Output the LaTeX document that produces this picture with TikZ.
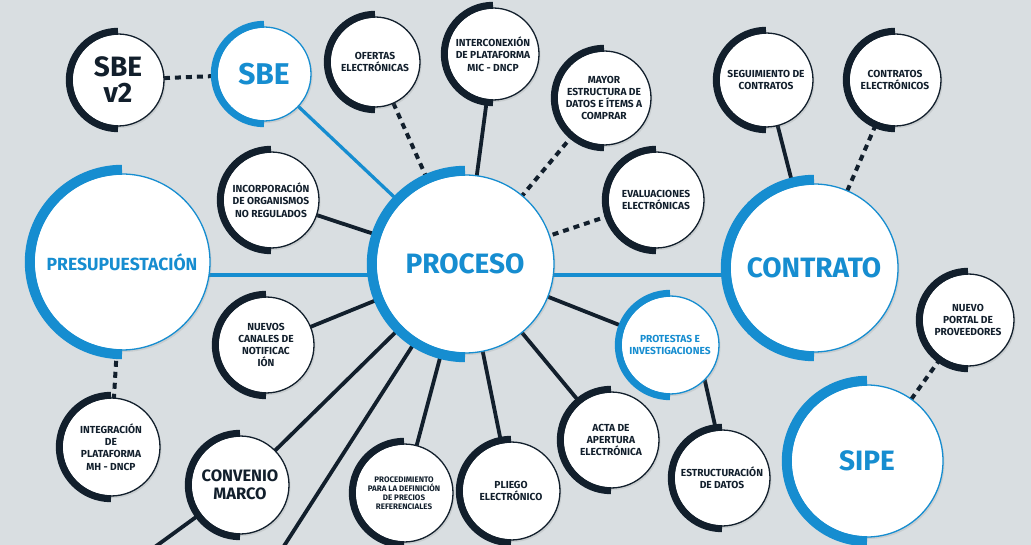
\documentclass[tikz,border=0pt]{standalone}
\usepackage{fontspec}
\setmainfont{Fira Sans}
\usetikzlibrary{shadows,calc}
\definecolor{cblue}{RGB}{22,141,208}
\definecolor{cdark}{RGB}{18,31,44}
\definecolor{cbg}{RGB}{217,222,225}
\pgfdeclarelayer{bg}
\pgfdeclarelayer{background}
\pgfsetlayers{bg,background,main}
\tikzset{
  bub/.style={circle, fill=white, draw=#1, line width=1.3pt, inner sep=0pt, outer sep=0pt,
    align=center, text=#1, font=\bfseries\fontsize{10.2}{12.3}\selectfont,
    drop shadow={opacity=0.18, shadow xshift=1.5pt, shadow yshift=-2pt}},
  bigtxt/.style={font=\bfseries\fontsize{28}{30}\selectfont},
  midtxt/.style={font=\bfseries\fontsize{16.5}{18}\selectfont},
  prestxt/.style={font=\bfseries\fontsize{17.6}{19}\selectfont},
  smalltxt/.style={font=\bfseries\fontsize{8}{9}\selectfont},
  sbetxt/.style={font=\bfseries\fontsize{28}{26}\selectfont},
  sbebtxt/.style={font=\bfseries\fontsize{30}{30}\selectfont},
  solidlink/.style={draw=cdark, line width=3.8pt},
  dashlink/.style={draw=cdark, line width=4pt, dash pattern=on 6pt off 5pt},
  bluelink/.style={draw=cblue, line width=3.3pt},
}
\newcommand\mkbub[8]{%
  \node[bub=#6, minimum size=#4*2pt, #7] (#1) at (#2pt,-#3pt) {#8};
  \pgfmathsetmacro\bandr{#4+#5/2-0.8}
  \draw[line width=#5pt, #6] (#1.center) ++(0,\bandr pt) arc[start angle=90,end angle=270,radius=\bandr pt];
}
\begin{document}
\begin{tikzpicture}[x=1pt,y=1pt]
\useasboundingbox (0,0) rectangle (1031,-545);
\begin{pgfonlayer}{bg}
\fill[cbg] (0,0) rectangle (1031,-545);
\end{pgfonlayer}
\coordinate (hline) at (0,-275);
\coordinate (off1) at (275,-560);
\coordinate (off2) at (137,-560);

\mkbub{sbev2}{118}{80}{46}{7}{cdark}{sbetxt}{SBE\\v2}
\mkbub{sbe}{264}{74}{47}{7}{cblue}{sbebtxt}{SBE}
\mkbub{ofertas}{375}{62}{45}{7}{cdark}{}{OFERTAS\\ELECTRÓNICAS}
\mkbub{inter}{493}{54}{46}{7}{cdark}{}{INTERCONEXIÓN\\DE PLATAFORMA\\MIC - DNCP}
\mkbub{mayor}{604}{98}{47}{7}{cdark}{}{MAYOR\\ESTRUCTURA DE\\DATOS E ÍTEMS A\\COMPRAR}
\mkbub{eval}{656}{200}{48}{7}{cdark}{}{EVALUACIONES\\ELECTRÓNICAS}
\mkbub{segui}{766}{80}{47}{7}{cdark}{}{SEGUIMIENTO DE\\CONTRATOS}
\mkbub{contel}{895}{80}{46}{7}{cdark}{}{CONTRATOS\\ELECTRÓNICOS}
\mkbub{pres}{122}{262}{88}{10}{cblue}{prestxt}{PRESUPUESTACIÓN}
\mkbub{incorp}{271}{200}{48}{7}{cdark}{}{INCORPORACIÓN\\DE ORGANISMOS\\NO REGULADOS}
\mkbub{nuevos}{266}{345}{48}{7}{cdark}{}{NUEVOS\\CANALES DE\\NOTIFICAC\\IÓN}
\mkbub{proc}{465}{264}{89}{10}{cblue}{bigtxt}{PROCESO}
\mkbub{contrato}{814}{268}{84}{10}{cblue}{bigtxt}{CONTRATO}
\mkbub{prot}{670}{345}{49}{7}{cblue}{}{PROTESTAS E\\INVESTIGACIONES}
\mkbub{portal}{968}{320}{46}{7}{cdark}{}{NUEVO\\PORTAL DE\\PROVEEDORES}
\mkbub{sipe}{867}{461}{76}{10}{cblue}{bigtxt}{SIPE}
\mkbub{estr}{722}{478}{48}{7}{cdark}{}{ESTRUCTURACIÓN\\DE DATOS}
\mkbub{acta}{611}{440}{48}{7}{cdark}{}{ACTA DE\\APERTURA\\ELECTRÓNICA}
\mkbub{pliego}{511}{491}{49}{7}{cdark}{}{PLIEGO\\ELECTRÓNICO}
\mkbub{proced}{404}{493}{49}{7}{cdark}{smalltxt}{PROCEDIMIENTO\\PARA LA DEFINICIÓN\\DE PRECIOS\\REFERENCIALES}
\mkbub{conv}{240}{485}{49}{7}{cdark}{midtxt}{CONVENIO\\MARCO}
\mkbub{integ}{111}{447}{49}{7}{cdark}{}{INTEGRACIÓN\\DE\\PLATAFORMA\\MH - DNCP}

\begin{pgfonlayer}{background}
\draw[dashlink] (sbev2) -- (sbe);
\draw[bluelink] (sbe) -- (proc);
\draw[dashlink] (ofertas) -- (proc);
\draw[solidlink] (inter) -- (proc);
\draw[dashlink] (mayor) -- (proc);
\draw[dashlink] (eval) -- (proc);
\draw[solidlink] (incorp) -- (proc);
\draw[solidlink] (nuevos) -- (proc);
\draw[bluelink] (pres.center |- hline) -- (contrato.center |- hline);
\draw[dashlink] (pres) -- (integ);
\draw[solidlink] (proc) -- (conv);
\draw[solidlink] (conv) -- (off2);
\draw[solidlink] (proc) -- (off1);
\draw[solidlink] (proc) -- (proced);
\draw[solidlink] (proc) -- (pliego);
\draw[solidlink] (proc) -- (acta);
\draw[solidlink] (proc) -- (prot);
\draw[solidlink] (prot.-45) -- (estr.97);
\draw[solidlink] (contrato) -- (segui);
\draw[dashlink] (contrato) -- (contel);
\draw[dashlink] (sipe) -- (portal);
\end{pgfonlayer}
\end{tikzpicture}
\end{document}
